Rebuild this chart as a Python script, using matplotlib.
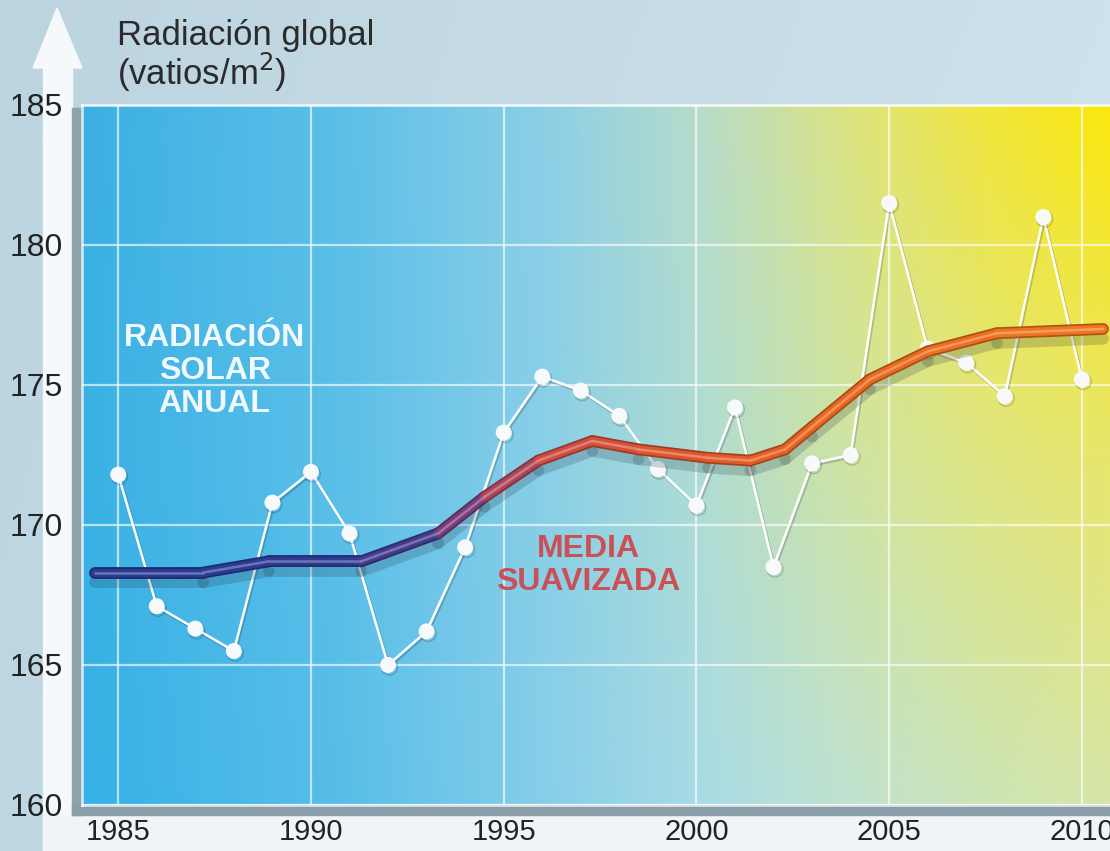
import numpy as np
import matplotlib
matplotlib.use("Agg")
import matplotlib.pyplot as plt
from matplotlib.collections import LineCollection
from matplotlib.colors import to_rgb
import matplotlib.patheffects as pe
from matplotlib.patches import Polygon, Rectangle

# ---------------- data ----------------
years = list(range(1985, 2011))
annual_radiation = [171.8, 167.1, 166.3, 165.5, 170.8, 171.9, 169.7, 165.0,
                    166.2, 169.2, 173.3, 175.3, 174.8, 173.9, 172.0, 170.7,
                    174.2, 168.5, 172.2, 172.5, 181.5, 176.3, 175.8, 174.6,
                    181.0, 175.2]

smooth_years = [1984.4, 1987.2, 1988.9, 1991.3, 1993.3, 1994.5, 1995.9, 1997.3,
                1998.5, 2000.3, 2001.4, 2002.3, 2003.0, 2004.5, 2006.0, 2007.8,
                2010.55]
smooth_values = [168.3, 168.3, 168.7, 168.7, 169.7, 171.0, 172.3, 173.0,
                 172.7, 172.4, 172.3, 172.7, 173.5, 175.2, 176.2, 176.85,
                 177.0]

x_ticks = [1985, 1990, 1995, 2000, 2005, 2010]
y_ticks = [160, 165, 170, 175, 180, 185]

y_title = "Radiación global\n(vatios/m$^{2}$)"
series_label = "RADIACIÓN\nSOLAR\nANUAL"
smooth_label = "MEDIA\nSUAVIZADA"

# ---------------- helpers ----------------
W, H = 1110, 851
SANS = ["Liberation Sans", "DejaVu Sans"]


def gradient_image(stops, rows, nx=500, ny=300):
    """2-D colour field: horizontal colour stops per row, blended between rows."""
    xs = np.linspace(0, 1, nx)
    row_rgb = []
    for row in rows:
        rgb = np.array([to_rgb(c) for c in row])
        row_rgb.append(np.stack([np.interp(xs, stops, rgb[:, k]) for k in range(3)], -1))
    row_rgb = np.array(row_rgb)
    row_pos = np.linspace(0, 1, len(rows))
    ys = np.linspace(0, 1, ny)
    img = np.empty((ny, nx, 3))
    for i, yy in enumerate(ys):
        j = min(np.searchsorted(row_pos, yy, side="right") - 1, len(rows) - 2)
        t = (yy - row_pos[j]) / (row_pos[j + 1] - row_pos[j])
        img[i] = row_rgb[j] * (1 - t) + row_rgb[j + 1] * t
    return img


def shade(c, f):
    r, g, b = to_rgb(c)
    return (r * f, g * f, b * f)


def tint(c, f):
    r, g, b = to_rgb(c)
    return (r + (1 - r) * f, g + (1 - g) * f, b + (1 - b) * f)


# ---------------- figure & frame ----------------
fig = plt.figure(figsize=(W / 100, H / 100), dpi=100)
fig.patch.set_facecolor("#c6dce7")

deco = fig.add_axes([0, 0, 1, 1], zorder=0)
deco.set_xlim(0, W)
deco.set_ylim(H, 0)
deco.axis("off")
frame_bg = gradient_image([0, 1], [["#bcd4e0", "#cde2eb"], ["#bfd7e3", "#d3e6ee"]])
deco.imshow(frame_bg, extent=(0, W, H, 0), aspect="auto", zorder=0)

# white axis arrow and bottom band
deco.add_patch(Rectangle((43, 66), 29, H - 66, color="#f5f9fb", zorder=1))
deco.add_patch(Polygon([(33, 68), (57, 8), (82, 68)], closed=True,
                       color="#f5f9fb", zorder=1))
deco.add_patch(Rectangle((43, 815), W - 43, H - 815, color="#eef4f7", zorder=1))
# shadow strips under the plot panel
deco.add_patch(Rectangle((72, 108), 10, 707, color="#8fa3ad", zorder=2))
deco.add_patch(Rectangle((72, 805), W - 72, 10, color="#8a9ea9", zorder=2))

# axis title
deco.text(117, 85, y_title, fontsize=25, family=SANS, color="#2b2b2b",
          ha="left", va="baseline", linespacing=0.96, zorder=3)

# ---------------- plot panel ----------------
ax = fig.add_axes([82 / W, (H - 805) / H, (W - 82) / W, (805 - 105) / H], zorder=2)
x_lo, x_hi = 1984.06, 2010.73
ax.set_xlim(x_lo, x_hi)
ax.set_ylim(160, 185)
ax.patch.set_alpha(0)

panel = gradient_image(
    [0, 0.25, 0.45, 0.6, 0.75, 0.88, 1.0],
    [["#3cb0e2", "#5cbfe8", "#8ccfe6", "#b6dccb", "#dce47f", "#f2e63c", "#fbe80c"],
     ["#3ab1e4", "#5bbfe8", "#89cfe7", "#afdcd3", "#d0e4a2", "#dfe680", "#e8e66c"],
     ["#36b1e6", "#58bee9", "#86cee9", "#a8dbe6", "#c0e2cf", "#cde5b6", "#d6e6a8"]])
ax.imshow(panel, extent=(x_lo, x_hi, 160, 185), aspect="auto", zorder=0)

ax.set_xticks(x_ticks)
ax.set_yticks(y_ticks)
ax.grid(True, color="white", alpha=0.65, lw=1.6, zorder=1)
ax.tick_params(length=0, colors="#222222")
ax.tick_params(axis="x", pad=9)
ax.tick_params(axis="y", pad=14)
for lab in ax.get_xticklabels():
    lab.set_family(SANS)
    lab.set_fontsize(21)
for lab in ax.get_yticklabels():
    lab.set_family(SANS)
    lab.set_fontsize(23)
for side in ("left", "top", "bottom"):
    ax.spines[side].set_color((1, 1, 1, 0.7))
    ax.spines[side].set_linewidth(2)
ax.spines["right"].set_visible(False)

# annual series
ax.plot(years, annual_radiation, color="white", lw=1.8, marker="o",
        ms=11.5, mfc="#f7f9fa", mec="none", zorder=3,
        path_effects=[pe.SimpleLineShadow(offset=(1, -1.5), alpha=0.18),
                      pe.Normal()])

# smoothed mean: blue -> purple -> red -> orange along the years
stop_years = [1984.4, 1991.3, 1993.3, 1994.5, 1996.0, 1999.0, 2003.0, 2010.6]
stop_cols = ["#2a3b93", "#2e3b93", "#5a3a8c", "#98406c", "#cc4a44",
             "#dc5430", "#e9641f", "#f07a1e"]
stop_rgb = np.array([to_rgb(c) for c in stop_cols])

pts = np.column_stack([smooth_years, smooth_values])
segs = np.stack([pts[:-1], pts[1:]], axis=1)
mids = (pts[:-1, 0] + pts[1:, 0]) / 2
seg_cols = [tuple(np.interp(m, stop_years, stop_rgb[:, k]) for k in range(3))
            for m in mids]

outer = LineCollection(segs, colors=[shade(c, 0.72) for c in seg_cols],
                       linewidths=8.5, capstyle="round", joinstyle="round",
                       zorder=4)
outer.set_path_effects([pe.SimpleLineShadow(offset=(0, -7), shadow_color="#1e3040",
                                            alpha=0.2),
                        pe.Normal()])
ax.add_collection(outer)
ax.add_collection(LineCollection(segs, colors=seg_cols, linewidths=6.0,
                                 capstyle="round", joinstyle="round", zorder=5))
ax.add_collection(LineCollection(segs, colors=[tint(c, 0.35) for c in seg_cols],
                                 linewidths=1.8, capstyle="round",
                                 joinstyle="round", alpha=0.85, zorder=6))

# in-plot labels
ax.text(1987.5, 175.5, series_label, fontsize=23, fontweight="bold", family=SANS,
        color="white", alpha=0.92, ha="center", va="center", linespacing=1.12,
        zorder=7)
ax.text(1997.2, 168.55, smooth_label, fontsize=23, fontweight="bold", family=SANS,
        color="#cc4f55", ha="center", va="center", linespacing=1.1, zorder=7)

fig.savefig("out.png", dpi=100, facecolor=fig.get_facecolor())
